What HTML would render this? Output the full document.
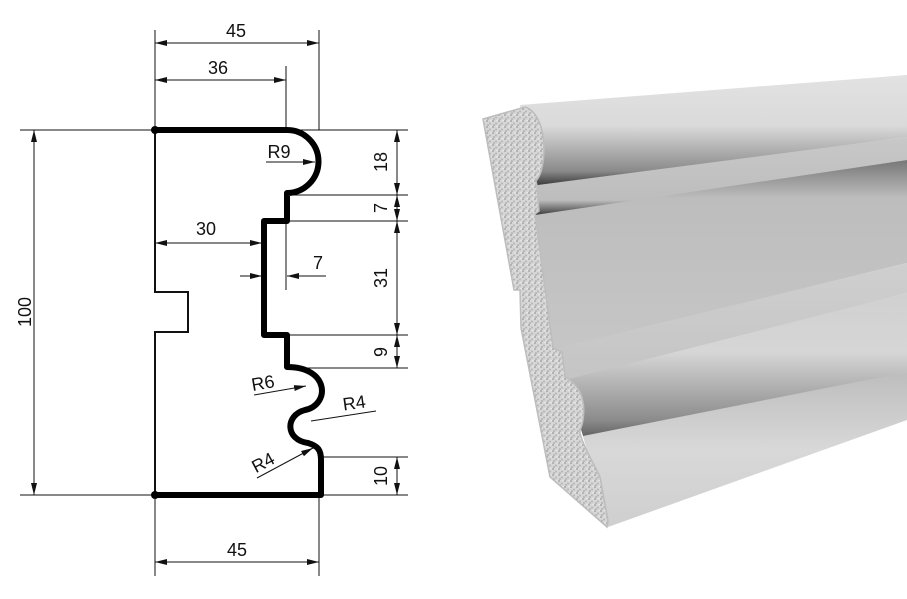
<!DOCTYPE html>
<html><head><meta charset="utf-8"><style>
html,body{margin:0;padding:0;background:#fff;}
svg{display:block;}
text{font-family:"Liberation Sans",sans-serif;font-size:18px;fill:#111;}
</style></head><body>
<svg width="907" height="599" viewBox="0 0 907 599" xmlns="http://www.w3.org/2000/svg">
<defs>
<marker id="a" viewBox="0 0 12 6" refX="12" refY="3" markerWidth="12" markerHeight="6" orient="auto-start-reverse" markerUnits="userSpaceOnUse"><path d="M0,0L12,3L0,6z" fill="#111"/></marker>
<linearGradient id="g1" x1="0" y1="0" x2="0" y2="1"><stop offset="0" stop-color="#e2e2e2"/><stop offset="0.45" stop-color="#dadada"/><stop offset="0.85" stop-color="#8a8a8a"/><stop offset="1" stop-color="#2a2a2a"/></linearGradient>
<linearGradient id="g2" x1="0" y1="0" x2="0" y2="1"><stop offset="0" stop-color="#c8c8c8"/><stop offset="0.8" stop-color="#bdbdbd"/><stop offset="1" stop-color="#333"/></linearGradient>
<linearGradient id="g3" x1="0" y1="0" x2="0" y2="1"><stop offset="0" stop-color="#777"/><stop offset="0.2" stop-color="#bdbdbd"/><stop offset="1" stop-color="#c6c6c6"/></linearGradient>
<linearGradient id="g4" x1="0" y1="0" x2="0" y2="1"><stop offset="0" stop-color="#cfcfcf"/><stop offset="1" stop-color="#c4c4c4"/></linearGradient>
<linearGradient id="g5" x1="0" y1="0" x2="0" y2="1"><stop offset="0" stop-color="#d0d0d0"/><stop offset="0.4" stop-color="#d6d6d6"/><stop offset="0.85" stop-color="#8c8c8c"/><stop offset="1" stop-color="#555"/></linearGradient>
<linearGradient id="g6" x1="0" y1="0" x2="0" y2="1"><stop offset="0" stop-color="#bdbdbd"/><stop offset="0.5" stop-color="#d8d8d8"/><stop offset="1" stop-color="#cfcfcf"/></linearGradient>
<pattern id="sp" width="6" height="6" patternUnits="userSpaceOnUse"><rect width="6" height="6" fill="#d6d6d6"/><circle cx="1" cy="1" r="1" fill="#a8a8a8"/><circle cx="4" cy="3.5" r="1" fill="#b4b4b4"/><circle cx="2" cy="5" r="0.8" fill="#9a9a9a"/><circle cx="5" cy="0.5" r="0.7" fill="#eee"/></pattern>
</defs>

<polygon points="520,105 907,75 907,137 530,188" fill="url(#g1)"/>
<polygon points="530,186 907,137 907,160 535,216" fill="url(#g2)"/>
<polygon points="535,215 907,160 907,263 553,350" fill="url(#g3)"/>
<polygon points="553,349 907,263 907,293 565,383" fill="url(#g4)"/>
<polygon points="565,380 907,293 907,372 585,442" fill="url(#g5)"/>
<polygon points="583,436 907,372 907,420 608,527" fill="url(#g6)"/>
<path d="M483,119 L525,107 C548,114 548,168 536,181 L537,186 L539,211 L535,214 L553,348 L562,352 L565,377 C580,385 586,400 583,420 C582,428 579,430 580,433 C584,448 592,460 600,477 L608,521 L607,527 L550,477 L521,328 L520,290 L514,290 Z" fill="url(#sp)" stroke="#bdbdbd" stroke-width="1.5"/>

<g stroke="#111" stroke-width="1" fill="none">
<line x1="155" y1="30" x2="155" y2="130"/>
<line x1="319" y1="30" x2="319" y2="130"/>
<line x1="286" y1="66" x2="286" y2="130"/>
<line x1="155" y1="43" x2="319" y2="43" marker-start="url(#a)" marker-end="url(#a)"/>
<line x1="155" y1="80" x2="286" y2="80" marker-start="url(#a)" marker-end="url(#a)"/>
<line x1="20" y1="130" x2="408" y2="130"/>
<line x1="20" y1="495" x2="408" y2="495"/>
<line x1="34" y1="130" x2="34" y2="495" marker-start="url(#a)" marker-end="url(#a)"/>
<line x1="155" y1="495" x2="155" y2="576"/>
<line x1="319" y1="495" x2="319" y2="576"/>
<line x1="155" y1="562" x2="319" y2="562" marker-start="url(#a)" marker-end="url(#a)"/>
<line x1="290" y1="195" x2="408" y2="195"/>
<line x1="287" y1="221" x2="408" y2="221"/>
<line x1="287" y1="335" x2="408" y2="335"/>
<line x1="290" y1="368" x2="408" y2="368"/>
<line x1="323" y1="457" x2="408" y2="457"/>
<line x1="397" y1="130" x2="397" y2="195" marker-start="url(#a)" marker-end="url(#a)"/>
<line x1="397" y1="195" x2="397" y2="221" marker-start="url(#a)" marker-end="url(#a)"/>
<line x1="397" y1="221" x2="397" y2="335" marker-start="url(#a)" marker-end="url(#a)"/>
<line x1="397" y1="335" x2="397" y2="368" marker-start="url(#a)" marker-end="url(#a)"/>
<line x1="397" y1="457" x2="397" y2="495" marker-start="url(#a)" marker-end="url(#a)"/>
<line x1="155" y1="243" x2="262" y2="243" marker-start="url(#a)" marker-end="url(#a)"/>
<line x1="240" y1="276" x2="262" y2="276" marker-end="url(#a)"/>
<line x1="326" y1="276" x2="287" y2="276" marker-end="url(#a)"/>
<line x1="286" y1="221" x2="286" y2="290"/>
<line x1="266" y1="162" x2="315" y2="162" marker-end="url(#a)"/>
<line x1="254" y1="395" x2="306" y2="386" marker-end="url(#a)"/>
<line x1="311" y1="421" x2="376" y2="411"/>
<line x1="257" y1="478" x2="313" y2="448" marker-end="url(#a)"/>
<path d="M155,130 L155,292 L188,292 L188,332 L155,332 L155,495" stroke-width="2"/>
</g>
<path d="M155,130 L287,130 A17,17 0 0 1 287,193 L287,221 L264,221 L264,335 L287,335 L287,367 C330,367 330,405 305,410 C285,415 285,440 308,443 C318,446 321,450 321,460 L321,495 L155,495" stroke="#000" stroke-width="6" fill="none" stroke-linejoin="round"/>
<circle cx="155" cy="130" r="4" fill="#000"/>
<circle cx="155" cy="495" r="4" fill="#000"/>

<text x="236" y="37" text-anchor="middle">45</text>
<text x="218" y="74" text-anchor="middle">36</text>
<text x="237" y="556" text-anchor="middle">45</text>
<text x="206" y="235" text-anchor="middle">30</text>
<text x="318" y="269" text-anchor="middle">7</text>
<text x="279" y="158" text-anchor="middle">R9</text>
<text x="264" y="389" text-anchor="middle" transform="rotate(-10 264 389)">R6</text>
<text x="355" y="409" text-anchor="middle" transform="rotate(-8 355 409)">R4</text>
<text x="266" y="468" text-anchor="middle" transform="rotate(-28 266 468)">R4</text>
<text transform="translate(31,312) rotate(-90)" text-anchor="middle">100</text>
<text transform="translate(387,162) rotate(-90)" text-anchor="middle">18</text>
<text transform="translate(387,208) rotate(-90)" text-anchor="middle">7</text>
<text transform="translate(387,278) rotate(-90)" text-anchor="middle">31</text>
<text transform="translate(387,352) rotate(-90)" text-anchor="middle">9</text>
<text transform="translate(387,476) rotate(-90)" text-anchor="middle">10</text>
</svg>
</body></html>
